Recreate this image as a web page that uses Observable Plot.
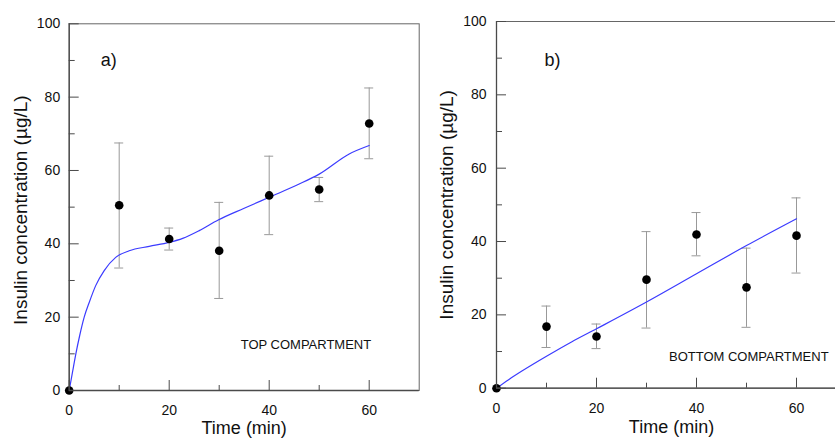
<!DOCTYPE html>
<html>
<head>
<meta charset="utf-8">
<script src="https://cdn.jsdelivr.net/npm/d3@7"></script>
<script src="https://cdn.jsdelivr.net/npm/@observablehq/plot@0.6"></script>
<style>
  html, body { margin: 0; padding: 0; background: #fff; overflow: hidden; }
  #wrap { display: flex; width: 835px; height: 439px; overflow: hidden; }
  #wrap > * { flex: none; }
</style>
</head>
<body>
<div id="wrap"></div>
<script>
// ---- Data ----
const times = [0, 10, 20, 30, 40, 50, 60];

// Panel a) TOP COMPARTMENT
const meanTop = [0, 50.5, 41.3, 38.1, 53.2, 54.8, 72.8];
const hiTop   = [0, 67.5, 44.3, 51.3, 63.9, 58.1, 82.5];
const loTop   = [0, 33.4, 38.3, 25.1, 42.5, 51.5, 63.2];
const fitTimeTop = [0, 0.66, 1.33, 2.1, 3.0, 4.0, 5.3, 7.0, 9.3, 12, 16, 20, 22.7, 26, 29.8, 35, 40, 46, 50, 56, 60];
const fitTop     = [0, 5.0, 10, 15, 20, 24, 28.6, 32.7, 36.3, 38.1, 39.3, 40.4, 41.5, 43.6, 46.5, 49.7, 52.7, 56.3, 59, 64.5, 66.8];

// Panel b) BOTTOM COMPARTMENT
const meanBottom = [0, 16.8, 14.1, 29.6, 41.9, 27.5, 41.6];
const hiBottom   = [0, 22.4, 17.5, 42.7, 47.9, 38.2, 51.9];
const loBottom   = [0, 11.1, 10.8, 16.4, 36.1, 16.6, 31.4];
const fitTimeBottom = [0, 2.5, 5, 10, 15, 20, 30, 40, 50, 60];
const fitBottom     = [0, 2.4, 4.6, 8.7, 12.6, 16.2, 23.5, 31.2, 38.9, 46.2];

// Axis ticks and labels
const yMajor = [0, 20, 40, 60, 80, 100];
const yMinor = [10, 30, 50, 70, 90];
const xMajor = [0, 20, 40, 60];
const xMinor = [10, 30, 50];
const yTitle = "Insulin concentration (\u00b5g/L)";
const xTitle = "Time (min)";
const panelTags = ["a)", "b)"];
const compartmentNames = ["TOP COMPARTMENT", "BOTTOM COMPARTMENT"];
// annotation anchors (data units)
const tagPos = [{t: 6.3, v: 90}, {t: 9.6, v: 89.4}];
const namePos = [{t: 34.3, v: 11.2}, {t: 34.5, v: 7.3}];

const FONT = "'Liberation Sans', Arial, Helvetica, sans-serif";
const AXIS = "#4a4a4a";

function panel(idx, opts) {
  const mean = idx === 0 ? meanTop : meanBottom;
  const hi = idx === 0 ? hiTop : hiBottom;
  const lo = idx === 0 ? loTop : loBottom;
  const ft = idx === 0 ? fitTimeTop : fitTimeBottom;
  const fv = idx === 0 ? fitTop : fitBottom;
  const pts = times.map((t, i) => ({t, v: mean[i], hi: hi[i], lo: lo[i]}));
  const bars = pts.filter(d => d.t > 0);
  const fit = ft.map((t, i) => ({t, v: fv[i]}));

  return Plot.plot({
    width: opts.width,
    height: 439,
    marginLeft: opts.marginLeft,
    marginRight: opts.marginRight,
    marginTop: opts.marginTop,
    marginBottom: opts.marginBottom,
    style: {fontFamily: FONT, background: "white", color: "#111"},
    x: {domain: [0, 70]},
    y: {domain: [0, 100]},
    marks: [
      Plot.frame({stroke: "#666", strokeWidth: 1}),
      // error bars
      Plot.ruleX(bars, {x: "t", y1: "lo", y2: "hi", stroke: "#999", strokeWidth: 1}),
      Plot.ruleY(bars, {y: "hi", x1: "t", x2: "t", insetLeft: -4.5, insetRight: -4.5, stroke: "#999", strokeWidth: 1}),
      Plot.ruleY(bars, {y: "lo", x1: "t", x2: "t", insetLeft: -4.5, insetRight: -4.5, stroke: "#999", strokeWidth: 1}),
      // model curve
      Plot.line(fit, {x: "t", y: "v", stroke: "#3b3bff", strokeWidth: 1.2, curve: "monotone-x"}),
      // data points
      Plot.dot(pts, {x: "t", y: "v", r: 4.3, fill: "black", stroke: "none"}),
      // axes (ticks point inward)
      Plot.axisY(yMajor, {anchor: "left", tickSize: -10, tickPadding: opts.yPad, fontSize: 14, stroke: AXIS, label: null}),
      Plot.axisY(yMinor, {anchor: "left", tickSize: -6, text: null, stroke: AXIS, label: null}),
      Plot.axisX(xMajor, {anchor: "bottom", tickSize: -10, tickPadding: 25, fontSize: 14, stroke: AXIS, label: null}),
      Plot.axisX(xMinor, {anchor: "bottom", tickSize: -5, text: null, stroke: AXIS, label: null}),
      Plot.ruleX([0], {stroke: AXIS, strokeWidth: 1.3}),
      Plot.ruleY([0], {stroke: AXIS, strokeWidth: 1.3}),
      // axis titles
      Plot.text([yTitle], {frameAnchor: "left", textAnchor: "middle", lineAnchor: "middle", rotate: -90, dx: opts.yTitleDx, dy: opts.yTitleDy, fontSize: 19, fill: "#111"}),
      Plot.text([xTitle], {frameAnchor: "bottom", textAnchor: "middle", lineAnchor: "middle", dy: opts.xTitleDy, fontSize: 18, fill: "#111"}),
      // annotations
      Plot.text([tagPos[idx]], {x: "t", y: "v", text: () => panelTags[idx], textAnchor: "start", lineAnchor: "middle", fontSize: 18, fill: "#111"}),
      Plot.text([namePos[idx]], {x: "t", y: "v", text: () => compartmentNames[idx], textAnchor: "start", lineAnchor: "bottom", fontSize: 13, fill: "#111"})
    ]
  });
}

const wrap = document.getElementById("wrap");
wrap.appendChild(panel(0, {width: 420, marginLeft: 68.7, marginRight: 1.3, marginTop: 23.3, marginBottom: 49, yPad: 19, yTitleDx: -48.7, yTitleDy: 3, xTitleDy: 38}));
wrap.appendChild(panel(1, {width: 430, marginLeft: 76, marginRight: 4, marginTop: 21, marginBottom: 51.3, yPad: 20, yTitleDx: -49.3, yTitleDy: 0, xTitleDy: 39}));
</script>
</body>
</html>
